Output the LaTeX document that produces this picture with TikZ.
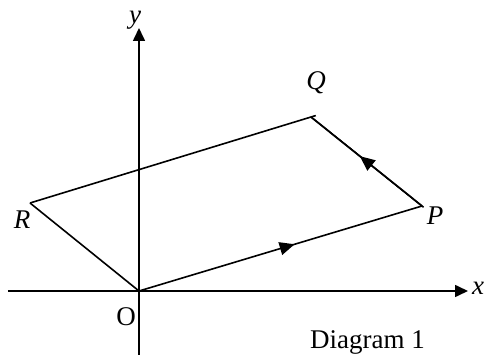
\documentclass[tikz,border=0pt]{standalone}
\usepackage{fontspec}
\setmainfont{Liberation Serif}
\usetikzlibrary{arrows.meta,decorations.markings}

\begin{document}
\begin{tikzpicture}[
  x=1pt, y=1pt,
  every node/.style={font=\fontsize{27}{30}\selectfont, inner sep=0pt},
  axis/.style={line width=1.6pt, -{Triangle[length=13pt, width=12pt]}},
  side/.style={line width=1.6pt},
  midarrow/.style={side, postaction={decorate},
    decoration={markings, mark=at position #1 with {\arrow{Triangle[length=15pt, width=13pt]}}}}
]
\useasboundingbox (-139,-64) rectangle (347,291);
\clip (-139,-64) rectangle (347,291);

% points of the parallelogram
\coordinate (O) at (0,0);
\coordinate (P) at (283,85);
\coordinate (Q) at (172,174);
\coordinate (R) at (-109,88);

% axes
\coordinate (xstart) at (-131,0);
\coordinate (xend) at (329,0);
\coordinate (ystart) at (0,-70);
\coordinate (yend) at (0,263);
\draw[axis] (xstart) -- (xend);
\draw[axis] (ystart) -- (yend);

% sides
\draw[midarrow=0.55] (O) -- (P);
\draw[midarrow=0.56] (P) -- (Q);
\draw[side, shorten >=-5pt] (R) -- (Q);
\draw[side] (R) -- (O);
\draw[side, shorten >=-2pt] (Q) -- (P);

% labels
\node (ylab) at (-4,271) {\textit{y}};
\node[anchor=west] (xlab) at (333,3) {\textit{x}};
\node (Olab) at (-13,-26) {O};
\node (Plab) at (296,75) {\textit{P}};
\node (Qlab) at (177,208) {\textit{Q}};
\node (Rlab) at (-117,71) {\textit{R}};
\node[anchor=base west] (cap) at (171,-57) {Diagram 1};
\end{tikzpicture}
\end{document}
